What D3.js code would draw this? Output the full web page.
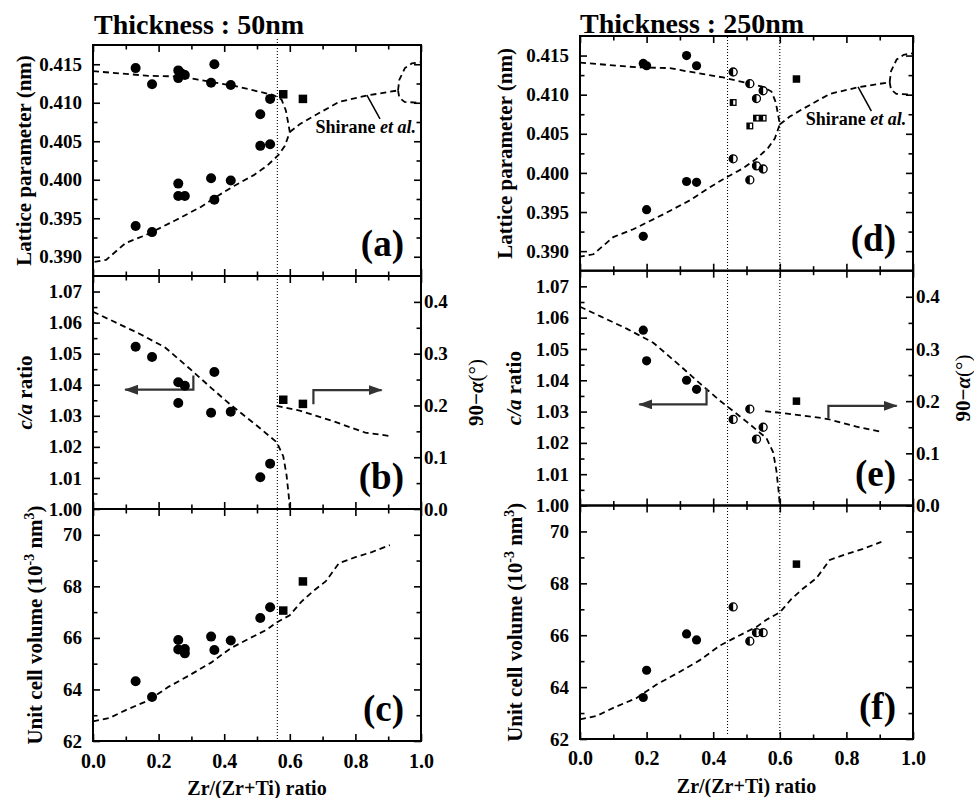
<!DOCTYPE html>
<html>
<head>
<meta charset="utf-8">
<script src="https://cdn.jsdelivr.net/npm/d3@7"></script>
<style>
  body { margin: 0; background: #fff; }
  svg text { font-family: "Liberation Serif", "Times New Roman", serif; font-weight: bold; fill: #000; }
</style>
</head>
<body>
<svg id="chart" width="974" height="798"></svg>
<script>
// tick values
const xMajor = [0, 0.2, 0.4, 0.6, 0.8, 1.0];
const xMinor = [0.1, 0.3, 0.5, 0.7, 0.9];
const latMajor = [0.390, 0.395, 0.400, 0.405, 0.410, 0.415];
const latMinor = [0.3925, 0.3975, 0.4025, 0.4075, 0.4125];
const caMajor = [1.00, 1.01, 1.02, 1.03, 1.04, 1.05, 1.06, 1.07];
const caMinor = [1.005, 1.015, 1.025, 1.035, 1.045, 1.055, 1.065];
const alphaMajor = [0, 0.1, 0.2, 0.3, 0.4];
const alphaMinor = [0.05, 0.15, 0.25, 0.35];
const volMajor = [62, 64, 66, 68, 70];
const volMinor = [63, 65, 67, 69];

// Shirane et al. phase lines
const shiraneTetra = [[0, 0.4141], [0.17, 0.4135], [0.27, 0.4134], [0.32, 0.4130], [0.43, 0.4122], [0.49, 0.4116],
  [0.55, 0.4110], [0.575, 0.4104], [0.588, 0.4090], [0.595, 0.4074], [0.6, 0.4062], [0.585, 0.4044], [0.565, 0.4032],
  [0.53, 0.4018], [0.49, 0.4006], [0.43, 0.3992], [0.38, 0.3979], [0.33, 0.3965], [0.25, 0.3947], [0.16, 0.3928],
  [0.10, 0.3918], [0.04, 0.3896], [0, 0.3893]];
const shiraneRhombo = [[0.6, 0.4062], [0.63, 0.4072], [0.67, 0.4082], [0.75, 0.4101], [0.83, 0.4109], [0.93, 0.4116]];
const shiraneOrthoTop = [[0.93, 0.4116], [0.934, 0.4130], [0.951, 0.4145], [0.972, 0.4151], [1.0, 0.4153]];
const shiraneOrthoBottom = [[0.93, 0.4116], [0.934, 0.41065], [0.95, 0.4101], [1.0, 0.4100]];
const shiraneCa = [[0, 1.0635], [0.06, 1.0605], [0.14, 1.0565], [0.22, 1.0520], [0.30, 1.0447], [0.36, 1.0390],
  [0.42, 1.0335], [0.50, 1.0268], [0.56, 1.0215], [0.58, 1.0170], [0.59, 1.0110], [0.597, 1.004], [0.6, 1.0]];
const shiraneVol = [[0, 62.76], [0.05, 62.89], [0.10, 63.2], [0.17, 63.58], [0.23, 64.1], [0.29, 64.52], [0.36, 65.04],
  [0.42, 65.6], [0.48, 66.0], [0.53, 66.32], [0.56, 66.6], [0.60, 66.88], [0.635, 67.4], [0.67, 67.8], [0.71, 68.2],
  [0.75, 68.9], [0.80, 69.13], [0.85, 69.33], [0.905, 69.6]];
const alpha50Line = [[0.56, 0.199], [0.63, 0.190], [0.73, 0.170], [0.83, 0.1475], [0.905, 0.141]];
const alpha250Line = [[0.556, 0.181], [0.70, 0.170], [0.745, 0.1656], [0.83, 0.151], [0.906, 0.141]];
const shiraneLeader = [[0.835, 0.4110], [0.875, 0.4079]];
const shiraneTextAt = [0.678, 0.4061];

// 50 nm films
const lat50Circles = [[0.13, 0.4145], [0.18, 0.4124], [0.26, 0.4142], [0.26, 0.4132], [0.27, 0.4138], [0.28, 0.4136],
  [0.36, 0.4126], [0.37, 0.4150], [0.42, 0.4123], [0.51, 0.4085], [0.54, 0.4105],
  [0.51, 0.4044], [0.54, 0.4046], [0.36, 0.4002], [0.42, 0.3999], [0.26, 0.3995], [0.26, 0.3979], [0.28, 0.3979],
  [0.37, 0.3974], [0.13, 0.3940], [0.18, 0.3932]];
const lat50Squares = [[0.58, 0.4111], [0.64, 0.4105]];
const ca50Circles = [[0.13, 1.0522], [0.18, 1.0489], [0.26, 1.0408], [0.28, 1.0397], [0.26, 1.0341], [0.37, 1.0441],
  [0.36, 1.0310], [0.42, 1.0313], [0.51, 1.0102], [0.54, 1.0146]];
const alpha50Squares = [[0.58, 0.211], [0.64, 0.203]];
const vol50Circles = [[0.13, 64.32], [0.18, 63.71], [0.26, 65.92], [0.26, 65.55], [0.28, 65.57], [0.28, 65.40],
  [0.36, 66.05], [0.37, 65.53], [0.42, 65.90], [0.51, 66.77], [0.54, 67.19]];
const vol50Squares = [[0.58, 67.06], [0.64, 68.19]];

// 250 nm films
const lat250Circles = [[0.19, 0.4140], [0.20, 0.4137], [0.32, 0.4150], [0.35, 0.4137],
  [0.20, 0.3953], [0.19, 0.3919], [0.32, 0.3989], [0.35, 0.3988]];
const lat250HalfCircles = [[0.46, 0.4129], [0.51, 0.4114], [0.55, 0.4105], [0.53, 0.4095],
  [0.46, 0.4018], [0.53, 0.4009], [0.55, 0.4005], [0.51, 0.3991]];
const lat250HalfSquares = [[0.46, 0.4090], [0.51, 0.4060], [0.53, 0.4070], [0.55, 0.4070]];
const lat250Squares = [[0.65, 0.4120]];
const ca250Circles = [[0.19, 1.0560], [0.20, 1.0462], [0.32, 1.0400], [0.35, 1.0371]];
const ca250HalfCircles = [[0.46, 1.0275], [0.51, 1.0308], [0.53, 1.0212], [0.55, 1.0250]];
const alpha250Squares = [[0.65, 0.200]];
const vol250Circles = [[0.19, 63.60], [0.20, 64.65], [0.32, 66.05], [0.35, 65.82]];
const vol250HalfCircles = [[0.46, 67.09], [0.51, 65.77], [0.53, 66.10], [0.55, 66.10]];
const vol250Squares = [[0.65, 68.74]];

// bracket arrows (left one -> c/a axis, right one -> 90-alpha axis)
const arrow50Left = [[0.306, 1.0430], [0.306, 1.0384], [0.098, 1.0384]];
const arrow50Right = [[0.672, 0.2025], [0.672, 0.2297], [0.88, 0.2297]];
const arrow250Left = [[0.38, 1.0374], [0.38, 1.0323], [0.178, 1.0323]];
const arrow250Right = [[0.746, 0.167], [0.746, 0.191], [0.951, 0.191]];

const svg = d3.select("#chart");
svg.append("defs").append("marker")
  .attr("id", "head")
  .attr("viewBox", "0 0 14 10")
  .attr("refX", 13).attr("refY", 5)
  .attr("markerWidth", 14).attr("markerHeight", 10)
  .attr("markerUnits", "userSpaceOnUse")
  .attr("orient", "auto")
  .append("path").attr("d", "M0,0L14,5L0,10Z").attr("fill", "#333");

const columns = [
  {
    left: 93, right: 421, bounds: [45, 276, 509, 741],
    title: "Thickness : 50nm", titleX: 94, titleY: 34,
    phase: [0.562], phaseTop: 39, phaseBottom: 741,
    r: 5, half: 4, sq: 8.5, hsq: 6,
    lat: { full: lat50Circles, half: [], halfSq: [], sq: lat50Squares },
    ca: { full: ca50Circles, half: [], sq: alpha50Squares, line: alpha50Line, arrows: [arrow50Left, arrow50Right] },
    vol: { full: vol50Circles, half: [], sq: vol50Squares },
    titleOff: [62, 61, 51], alphaOff: 62, xPad: 13
  },
  {
    left: 580, right: 913, bounds: [36, 270.7, 505.5, 739],
    title: "Thickness : 250nm", titleX: 580, titleY: 33,
    phase: [0.443, 0.6], phaseTop: 37, phaseBottom: 734,
    r: 4.6, half: 4, sq: 7.5, hsq: 5.6,
    lat: { full: lat250Circles, half: lat250HalfCircles, halfSq: lat250HalfSquares, sq: lat250Squares },
    ca: { full: ca250Circles, half: ca250HalfCircles, sq: alpha250Squares, line: alpha250Line, arrows: [arrow250Left, arrow250Right] },
    vol: { full: vol250Circles, half: vol250HalfCircles, sq: vol250Squares },
    titleOff: [68, 59, 58], alphaOff: 57, xPad: 12
  }
];

function ticks(g, gen, scale, values, size, transform, fmt, pad, fontSize) {
  const a = g.append("g")
    .attr("transform", transform)
    .call(gen(scale).tickValues(values).tickSize(size).tickPadding(pad || 0).tickFormat(fmt || (() => "")));
  a.select(".domain").remove();
  a.attr("font-family", null).attr("font-size", fontSize || null);
  a.selectAll("line").attr("stroke-width", 1.6);
  return a;
}

function markers(g, x, y, col, set) {
  g.selectAll(null).data(set.full).enter().append("circle")
    .attr("cx", d => x(d[0])).attr("cy", d => y(d[1])).attr("r", col.r).attr("fill", "#000");
  const h = g.selectAll(null).data(set.half).enter().append("g");
  h.append("circle")
    .attr("cx", d => x(d[0])).attr("cy", d => y(d[1])).attr("r", col.half)
    .attr("fill", "#fff").attr("stroke", "#000").attr("stroke-width", 1.3);
  h.append("path")
    .attr("d", d => {
      const cx = x(d[0]), cy = y(d[1]), r = col.half;
      return `M${cx},${cy - r}A${r},${r} 0 0 0 ${cx},${cy + r}Z`;
    })
    .attr("fill", "#000");
  const hs = g.selectAll(null).data(set.halfSq || []).enter().append("g");
  hs.append("rect")
    .attr("x", d => x(d[0]) - col.hsq / 2).attr("y", d => y(d[1]) - col.hsq / 2)
    .attr("width", col.hsq).attr("height", col.hsq)
    .attr("fill", "#fff").attr("stroke", "#000").attr("stroke-width", 1.3);
  hs.append("rect")
    .attr("x", d => x(d[0]) - col.hsq / 2).attr("y", d => y(d[1]) - col.hsq / 2)
    .attr("width", col.hsq / 2).attr("height", col.hsq)
    .attr("fill", "#000");
}

function squares(g, x, y, col, data) {
  g.selectAll(null).data(data).enter().append("rect")
    .attr("x", d => x(d[0]) - col.sq / 2).attr("y", d => y(d[1]) - col.sq / 2)
    .attr("width", col.sq).attr("height", col.sq).attr("fill", "#000");
}

function dashed(g, x, y, data) {
  g.append("path")
    .attr("d", d3.line().x(d => x(d[0])).y(d => y(d[1]))(data))
    .attr("fill", "none").attr("stroke", "#000")
    .attr("stroke-width", 1.8).attr("stroke-dasharray", "6,4");
}

function yTitle(g, xPos, yPos, parts) {
  const t = g.append("text")
    .attr("transform", `translate(${xPos},${yPos}) rotate(-90)`)
    .attr("text-anchor", "middle")
    .attr("font-size", 21);
  parts.forEach(p => {
    const s = t.append("tspan").text(p.text);
    if (p.italic) s.attr("font-style", "italic");
    if (p.dy) s.attr("dy", p.dy);
    if (p.size) s.attr("font-size", p.size);
    if (p.normal) s.attr("font-weight", "normal");
  });
}

columns.forEach(col => {
  const x = d3.scaleLinear().domain([0, 1]).range([col.left, col.right]);
  const [t0, t1, t2, t3] = col.bounds;
  const panels = [
    { top: t0, bottom: t1, domain: [0.3875, 0.4175], major: latMajor, minor: latMinor, fmt: d3.format(".3f"), letter: "" },
    { top: t1, bottom: t2, domain: [1.0, 1.075], major: caMajor, minor: caMinor, fmt: d3.format(".2f") },
    { top: t2, bottom: t3, domain: [62, 71], major: volMajor, minor: volMinor, fmt: d3.format("d") }
  ];
  const letters = col === columns[0] ? ["(a)", "(b)", "(c)"] : ["(d)", "(e)", "(f)"];
  const g = svg.append("g");

  panels.forEach((p, i) => {
    p.y = d3.scaleLinear().domain(p.domain).range([p.bottom, p.top]);
    const gp = g.append("g");
    ticks(gp, d3.axisBottom, x, xMinor, -4.5, `translate(0,${p.bottom})`);
    ticks(gp, d3.axisTop, x, xMinor, -4.5, `translate(0,${p.top})`);
    ticks(gp, d3.axisTop, x, xMajor, -7, `translate(0,${p.top})`);
    if (i === 2) {
      ticks(gp, d3.axisBottom, x, xMajor, -7, `translate(0,${p.bottom})`, d3.format(".1f"), col.xPad, 20);
    } else {
      ticks(gp, d3.axisBottom, x, xMajor, -7, `translate(0,${p.bottom})`);
    }
    ticks(gp, d3.axisLeft, p.y, p.minor, -4.5, `translate(${col.left},0)`);
    ticks(gp, d3.axisLeft, p.y, p.major, -7, `translate(${col.left},0)`, p.fmt, 11, 19);
    if (i === 1) {
      p.y2 = d3.scaleLinear().domain([0, 0.45]).range([p.bottom, p.top]);
      ticks(gp, d3.axisRight, p.y2, alphaMinor, -4.5, `translate(${col.right},0)`);
      ticks(gp, d3.axisRight, p.y2, alphaMajor, -7, `translate(${col.right},0)`, d3.format(".1f"), 3, 19);
    } else {
      ticks(gp, d3.axisRight, p.y, p.minor, -4.5, `translate(${col.right},0)`);
      ticks(gp, d3.axisRight, p.y, p.major, -7, `translate(${col.right},0)`);
    }
    gp.append("rect")
      .attr("x", col.left).attr("y", p.top)
      .attr("width", col.right - col.left).attr("height", p.bottom - p.top)
      .attr("fill", "none").attr("stroke", "#000").attr("stroke-width", 2);
    gp.append("text")
      .attr("x", col.right - 17).attr("y", p.bottom - 20)
      .attr("text-anchor", "end").attr("font-size", 37)
      .text(letters[i]);
  });

  // phase boundaries
  col.phase.forEach(v => {
    g.append("line")
      .attr("x1", x(v)).attr("x2", x(v))
      .attr("y1", col.phaseTop).attr("y2", col.phaseBottom)
      .attr("stroke", "#000").attr("stroke-width", 1.1).attr("stroke-dasharray", "1,2");
  });

  // (a)/(d) lattice parameter
  const pa = panels[0];
  [shiraneTetra, shiraneRhombo, shiraneOrthoTop, shiraneOrthoBottom].forEach(l => dashed(g, x, pa.y, l));
  g.append("line")
    .attr("x1", x(shiraneLeader[0][0])).attr("y1", pa.y(shiraneLeader[0][1]))
    .attr("x2", x(shiraneLeader[1][0])).attr("y2", pa.y(shiraneLeader[1][1]))
    .attr("stroke", "#000").attr("stroke-width", 1.5);
  const st = g.append("text")
    .attr("x", x(shiraneTextAt[0])).attr("y", pa.y(shiraneTextAt[1]))
    .attr("font-size", 18);
  st.append("tspan").text("Shirane ");
  st.append("tspan").attr("font-style", "italic").text("et al.");
  markers(g, x, pa.y, col, col.lat);
  squares(g, x, pa.y, col, col.lat.sq);

  // (b)/(e) c/a and 90-alpha
  const pb = panels[1];
  dashed(g, x, pb.y, shiraneCa);
  dashed(g, x, pb.y2, col.ca.line);
  [[col.ca.arrows[0], pb.y], [col.ca.arrows[1], pb.y2]].forEach(([pts, ys]) => {
    g.append("path")
      .attr("d", d3.line().x(d => x(d[0])).y(d => ys(d[1]))(pts))
      .attr("fill", "none").attr("stroke", "#333").attr("stroke-width", 2.2)
      .attr("marker-end", "url(#head)");
  });
  markers(g, x, pb.y, col, col.ca);
  squares(g, x, pb.y2, col, col.ca.sq);

  // (c)/(f) unit cell volume
  const pc = panels[2];
  dashed(g, x, pc.y, shiraneVol);
  markers(g, x, pc.y, col, col.vol);
  squares(g, x, pc.y, col, col.vol.sq);

  // titles
  g.append("text")
    .attr("x", col.titleX).attr("y", col.titleY)
    .attr("font-size", 28)
    .text(col.title);
  yTitle(g, col.left - col.titleOff[0], (pa.top + pa.bottom) / 2, [{ text: "Lattice parameter (nm)" }]);
  yTitle(g, col.left - col.titleOff[1], (pb.top + pb.bottom) / 2, [{ text: "c/a", italic: true }, { text: " ratio" }]);
  yTitle(g, col.left - col.titleOff[2], (pc.top + pc.bottom) / 2, [
    { text: "Unit cell volume (10" }, { text: "-3", dy: -8, size: 14 }, { text: " nm", dy: 8 },
    { text: "3", dy: -8, size: 14 }, { text: ")", dy: 8 }]);
  yTitle(g, col.right + col.alphaOff, (pb.top + pb.bottom) / 2, [
    { text: "90\u2212" }, { text: "\u03B1", italic: true }, { text: "(\u00B0)", normal: true }]);
  g.append("text")
    .attr("x", (col.left + col.right) / 2).attr("y", col === columns[0] ? 795 : 793)
    .attr("text-anchor", "middle").attr("font-size", 20)
    .text("Zr/(Zr+Ti) ratio");
});
</script>
</body>
</html>
